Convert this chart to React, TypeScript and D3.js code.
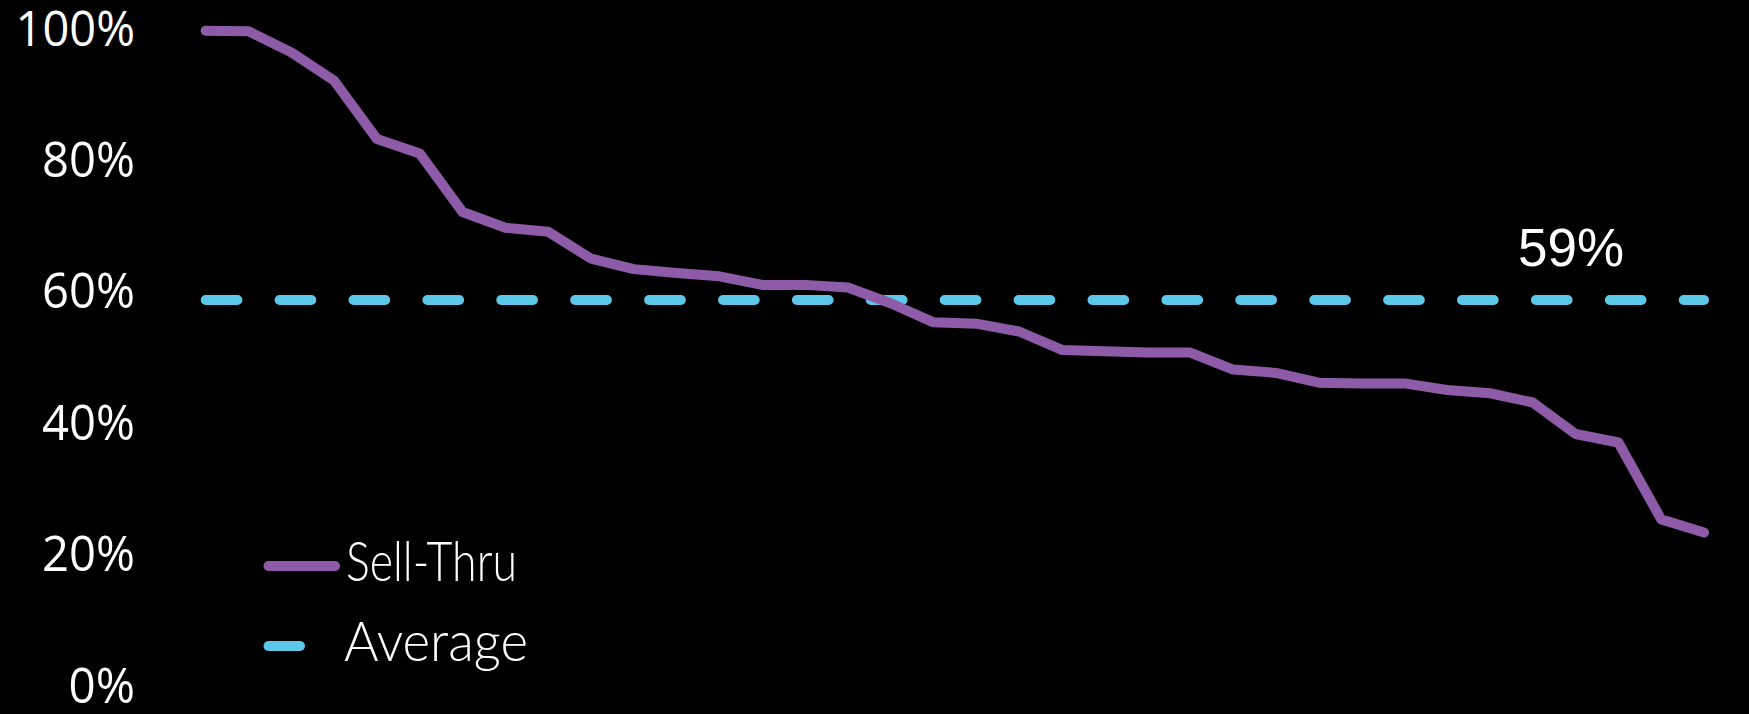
import React from "react";
import * as d3 from "d3";

// Sell-through per item, ranked from highest to lowest (percent)
const SELL_THRU = [
  100, 99.9, 96.7, 92.4, 83.5, 81.3, 72.4, 70.0, 69.4, 65.3, 63.7, 63.1,
  62.6, 61.3, 61.3, 60.9, 58.5, 55.6, 55.4, 54.2, 51.4, 51.2, 51.0, 51.0,
  48.4, 47.9, 46.4, 46.3, 46.3, 45.3, 44.8, 43.4, 38.6, 37.3, 25.6, 23.6,
];
const ITEMS = SELL_THRU.map((_, i) => `Item ${i + 1}`);
const AVERAGE = 59;
const Y_TICKS = [0, 20, 40, 60, 80, 100];
const LEGEND_LABELS = ["Sell-Thru", "Average"];

const W = 1749;
const H = 714;
const PURPLE = "#8E5BA8";
const CYAN = "#5BC8E9";

export default function App() {
  const x = d3.scalePoint<string>().domain(ITEMS).range([205.7, 1704]);
  const y = d3.scaleLinear().domain([0, 100]).range([687.5, 30.7]);

  const line = d3
    .line<number>()
    .x((_, i) => x(ITEMS[i]) as number)
    .y((d) => y(d));

  const [x0, x1] = x.range();
  const avgY = y(AVERAGE);
  const fmt = (v: number) => `${v}%`;

  return (
    <div
      style={{
        position: "fixed",
        left: 0,
        top: 0,
        width: W,
        height: H,
        background: "#000",
      }}
    >
      <svg width={W} height={H} style={{ display: "block" }}>
        <rect width={W} height={H} fill="#000" />

        {/* y axis labels */}
        <g fontFamily="'Open Sans', sans-serif" fontSize={49} fill="#fff">
          {Y_TICKS.map((t) => {
            const label = fmt(t);
            return (
              <text
                key={t}
                x={135}
                y={y(t) + 15}
                textAnchor="end"
                textLength={(label.length - 1) * 26.5 + 40}
                lengthAdjust="spacingAndGlyphs"
              >
                {label}
              </text>
            );
          })}
        </g>

        {/* average reference line */}
        <line
          x1={x0}
          x2={x1}
          y1={avgY}
          y2={avgY}
          stroke={CYAN}
          strokeWidth={10}
          strokeLinecap="round"
          strokeDasharray="31.7 42.2"
        />
        <text
          x={x1 - 186}
          y={avgY - 33.5}
          fontFamily="'Liberation Sans', Arial, sans-serif"
          fontSize={53}
          fill="#fff"
        >
          {fmt(AVERAGE)}
        </text>

        {/* sell-thru line */}
        <path
          d={line(SELL_THRU) ?? ""}
          fill="none"
          stroke={PURPLE}
          strokeWidth={10}
          strokeLinecap="round"
          strokeLinejoin="round"
        />

        {/* legend */}
        <g fontFamily="Lato, 'Open Sans', sans-serif" fontWeight={300} fontSize={56} fill="#fff">
          <line
            x1={268.5}
            x2={335}
            y1={566}
            y2={566}
            stroke={PURPLE}
            strokeWidth={10}
            strokeLinecap="round"
          />
          <text x={346} y={580.5} textLength={171} lengthAdjust="spacingAndGlyphs">
            {LEGEND_LABELS[0]}
          </text>
          <line
            x1={268.5}
            x2={300}
            y1={646}
            y2={646}
            stroke={CYAN}
            strokeWidth={10}
            strokeLinecap="round"
          />
          <text x={344} y={660.7} textLength={184} lengthAdjust="spacingAndGlyphs">
            {LEGEND_LABELS[1]}
          </text>
        </g>
      </svg>
    </div>
  );
}
